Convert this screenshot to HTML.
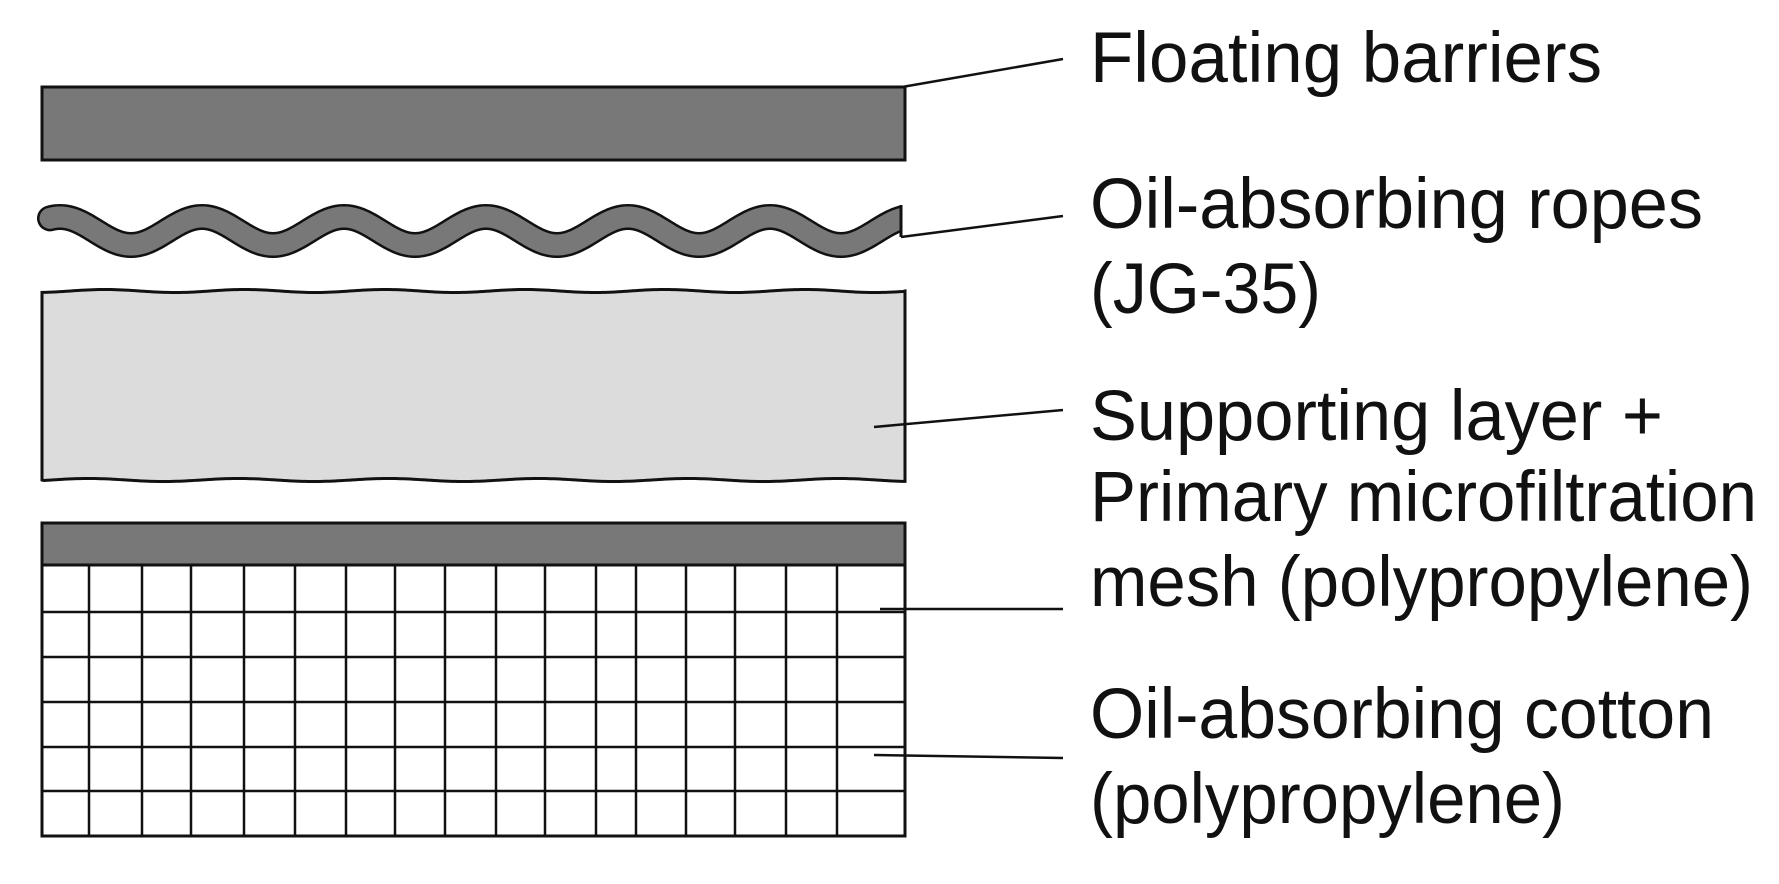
<!DOCTYPE html>
<html><head><meta charset="utf-8"><style>
html,body{margin:0;padding:0;background:#fff;}
svg{display:block;}
text{font-family:"Liberation Sans",Arial,sans-serif;font-size:71px;fill:#111;}
</style></head><body>
<svg id="s" width="1779" height="884" viewBox="0 0 1779 884" xmlns="http://www.w3.org/2000/svg">
<defs><clipPath id="c"><rect x="0" y="0" width="901" height="884"/></clipPath></defs>
<rect x="42" y="87" width="863" height="73" fill="#787878" stroke="#111" stroke-width="3"/>
<g clip-path="url(#c)">
<path id="r1" fill="none" stroke="#111" stroke-width="26" stroke-linecap="round"/>
<path id="r2" fill="none" stroke="#787878" stroke-width="21" stroke-linecap="round"/>
</g>
<line x1="901" y1="205" x2="901" y2="237" stroke="#111" stroke-width="3"/>
<path id="sup" fill="#dcdcdc" stroke="#111" stroke-width="3"/>
<rect x="42" y="523" width="863" height="313" fill="#fff" stroke="#111" stroke-width="3"/>
<rect x="42" y="523" width="863" height="42" fill="#787878" stroke="#111" stroke-width="3"/>
<g stroke="#111" stroke-width="2.5">
<line x1="42" y1="612" x2="905" y2="612"/>
<line x1="42" y1="657" x2="905" y2="657"/>
<line x1="42" y1="702" x2="905" y2="702"/>
<line x1="42" y1="747" x2="905" y2="747"/>
<line x1="42" y1="791" x2="905" y2="791"/>
<line x1="89" y1="565" x2="89" y2="836"/>
<line x1="142" y1="565" x2="142" y2="836"/>
<line x1="191" y1="565" x2="191" y2="836"/>
<line x1="244" y1="565" x2="244" y2="836"/>
<line x1="295" y1="565" x2="295" y2="836"/>
<line x1="346" y1="565" x2="346" y2="836"/>
<line x1="395" y1="565" x2="395" y2="836"/>
<line x1="445" y1="565" x2="445" y2="836"/>
<line x1="496" y1="565" x2="496" y2="836"/>
<line x1="545" y1="565" x2="545" y2="836"/>
<line x1="596" y1="565" x2="596" y2="836"/>
<line x1="636" y1="565" x2="636" y2="836"/>
<line x1="686" y1="565" x2="686" y2="836"/>
<line x1="735" y1="565" x2="735" y2="836"/>
<line x1="786" y1="565" x2="786" y2="836"/>
<line x1="837" y1="565" x2="837" y2="836"/>
</g>
<g stroke="#111" stroke-width="2.5" fill="none">
<line x1="902" y1="87" x2="1063" y2="59"/>
<line x1="901" y1="237" x2="1063" y2="216"/>
<line x1="874" y1="427" x2="1063" y2="410"/>
<line x1="880" y1="609" x2="1063" y2="609"/>
<line x1="874" y1="755" x2="1063" y2="758"/>
</g>
<text x="1090" y="82" textLength="512" lengthAdjust="spacingAndGlyphs">Floating barriers</text>
<text x="1090" y="228" textLength="613" lengthAdjust="spacingAndGlyphs">Oil-absorbing ropes</text>
<text x="1090" y="313" textLength="231" lengthAdjust="spacingAndGlyphs">(JG-35)</text>
<text x="1090" y="440" textLength="573" lengthAdjust="spacingAndGlyphs">Supporting layer +</text>
<text x="1090" y="521" textLength="667" lengthAdjust="spacingAndGlyphs">Primary microfiltration</text>
<text x="1090" y="606" textLength="663" lengthAdjust="spacingAndGlyphs">mesh (polypropylene)</text>
<text x="1090" y="738" textLength="624" lengthAdjust="spacingAndGlyphs">Oil-absorbing cotton</text>
<text x="1090" y="823" textLength="475" lengthAdjust="spacingAndGlyphs">(polypropylene)</text>
</svg>
<script>
var d="";
for(var x=50;x<=915;x+=2){var y=231-14*Math.cos(2*Math.PI*(x-60)/142);d+=(x==50?"M":"L")+x+" "+y.toFixed(2)+" ";}
document.getElementById("r1").setAttribute("d",d);
document.getElementById("r2").setAttribute("d",d);
var s="M42 291 ";
for(var x=42;x<=905;x+=3){s+="L"+x+" "+(291+1.5*Math.sin(2*Math.PI*x/140)).toFixed(2)+" ";}
s+="L905 291 L905 480 ";
for(var x=905;x>=42;x-=3){s+="L"+x+" "+(480+1.5*Math.sin(2*Math.PI*x/150+1)).toFixed(2)+" ";}
s+="L42 480 Z";
document.getElementById("sup").setAttribute("d",s);
</script>
</body></html>
